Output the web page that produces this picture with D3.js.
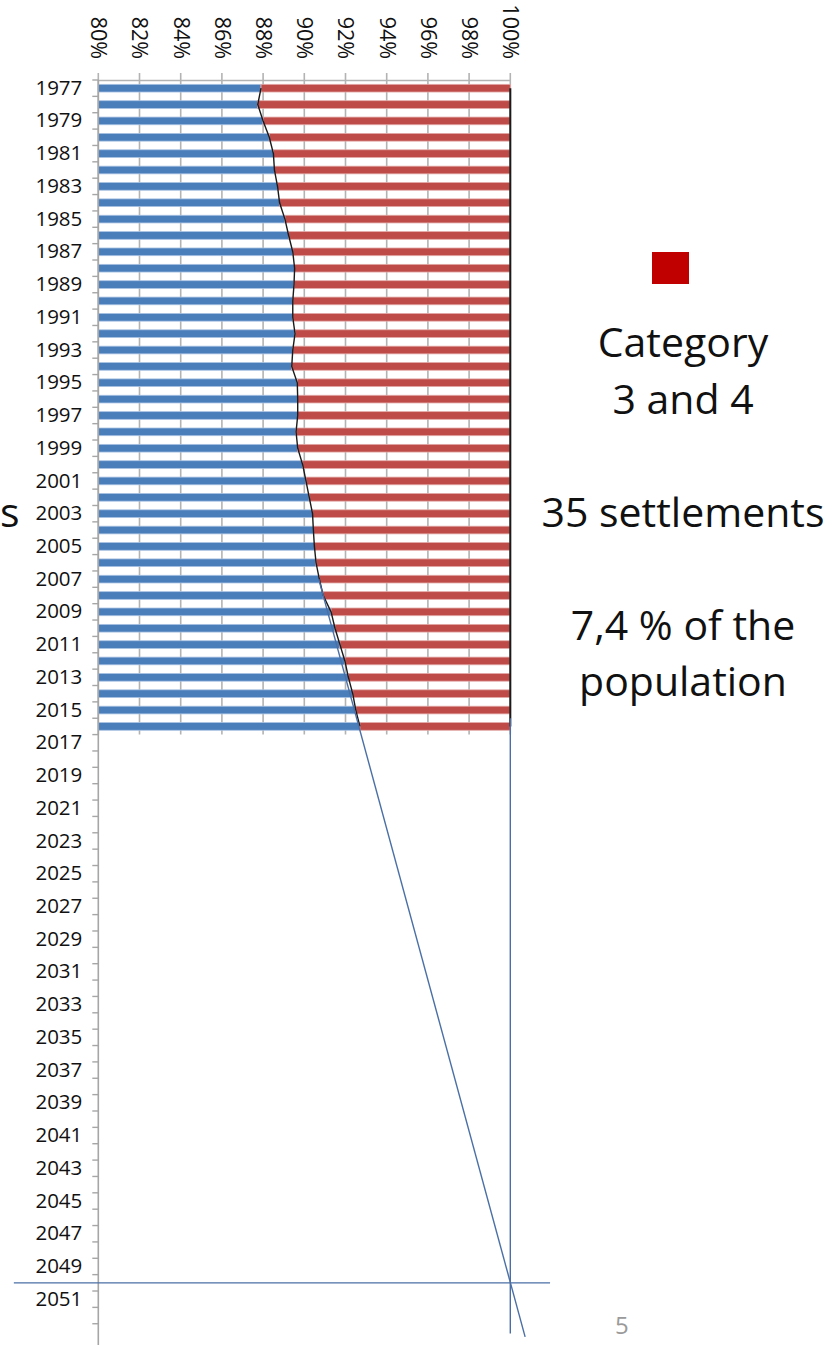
<!DOCTYPE html>
<html>
<head>
<meta charset="utf-8">
<script src="https://cdn.jsdelivr.net/npm/d3@7"></script>
<style>
  html, body { margin: 0; padding: 0; background: #fff; }
  svg { display: block; font-family: 'Open Sans', sans-serif; }
</style>
</head>
<body>
<div id="chart"></div>
<script>
// share of the population outside category 3 and 4 settlements (blue part)
const years = d3.range(1977, 2017);
const shares = [
  0.879, 0.8774, 0.880, 0.883, 0.885, 0.8855, 0.887, 0.888, 0.8906, 0.8924,
  0.8944, 0.8953, 0.895, 0.8944, 0.8944, 0.8955, 0.8944, 0.8939, 0.8966, 0.8968,
  0.8968, 0.896, 0.8968, 0.8992, 0.9008, 0.9024, 0.904, 0.9044, 0.9049, 0.9057,
  0.9073, 0.9092, 0.913, 0.9149, 0.9173, 0.9197, 0.9214, 0.9235, 0.925, 0.927,
];
const axisYears = d3.range(1977, 2054);
const yearLabels = d3.range(1977, 2052, 2);
const pctTicks = d3.range(0.80, 1.0001, 0.02);

// projection: straight line reaching 100% in 2050
const trendLine = [[2007, 0.907], [2053.3, 1.0072]];
const targetYear = [[0.759, 2050], [1.0193, 2050]];
const targetShare = [[1.0, 2015.5], [1.0, 2053.1]];

const legendLines = ['Category', '3 and 4', '', '35 settlements', '', '7,4 % of the', 'population'];

const width = 833;
const height = 1345;

const svg = d3.select('#chart').append('svg')
  .attr('width', width)
  .attr('height', height);

const x = d3.scaleLinear().domain([0.80, 1.00]).range([98.3, 510.3]);
const y = d3.scaleBand().domain(axisYears).range([80, 80 + axisYears.length * 16.365]);
const bw = y.bandwidth();
const yLin = d3.scaleLinear()
  .domain([1977, 2053])
  .range([y(1977) + bw / 2, y(2053) + bw / 2]);

const barBottom = y(years[years.length - 1]) + bw;

// gridlines over the data part only
svg.append('g')
  .selectAll('line')
  .data(pctTicks)
  .join('line')
  .attr('x1', (d) => x(d))
  .attr('x2', (d) => x(d))
  .attr('y1', 73)
  .attr('y2', barBottom)
  .attr('stroke', '#b3b3b3')
  .attr('stroke-width', 1.6);

// top axis
const xAxis = svg.append('g')
  .attr('transform', 'translate(0,80)')
  .call(d3.axisTop(x).tickValues(pctTicks).tickFormat(d3.format('.0%')).tickSize(0).tickSizeOuter(0));
xAxis.select('.domain').attr('stroke', '#b3b3b3').attr('stroke-width', 1.6);
xAxis.selectAll('text')
  .attr('transform', 'rotate(90)')
  .attr('x', -21)
  .attr('y', 0)
  .attr('dy', '0.35em')
  .style('text-anchor', 'end')
  .style('font-size', '21.5px')
  .style('font-family', 'Open Sans')
  .attr('fill', '#111');

// bars
const rows = years.map((yr, i) => ({ year: yr, v: shares[i] }));
const barH = bw * 0.47;

svg.append('g')
  .selectAll('rect')
  .data(rows)
  .join('rect')
  .attr('x', x(0.80))
  .attr('y', (d) => y(d.year) + (bw - barH) / 2)
  .attr('width', (d) => x(d.v) - x(0.80))
  .attr('height', barH)
  .attr('fill', '#4a7ebb')
  .attr('stroke', '#a9c2e3')
  .attr('stroke-width', 0.8);

svg.append('g')
  .selectAll('rect')
  .data(rows)
  .join('rect')
  .attr('x', (d) => x(d.v))
  .attr('y', (d) => y(d.year) + (bw - barH) / 2)
  .attr('width', (d) => x(1.0) - x(d.v))
  .attr('height', barH)
  .attr('fill', '#be4b48')
  .attr('stroke', '#e3aaa8')
  .attr('stroke-width', 0.8);

// boundary line and the 100% line
const line = d3.line()
  .x((d) => x(d.v))
  .y((d) => y(d.year) + bw / 2);

svg.append('path')
  .datum(rows)
  .attr('d', line)
  .attr('fill', 'none')
  .attr('stroke', '#1a1a1a')
  .attr('stroke-width', 1.4);

svg.append('path')
  .datum(rows.map((d) => ({ year: d.year, v: 1.0 })))
  .attr('d', line)
  .attr('fill', 'none')
  .attr('stroke', '#1a1a1a')
  .attr('stroke-width', 2);

// left axis
const yAxis = svg.append('g')
  .attr('transform', `translate(${x(0.80)},0)`)
  .call(d3.axisLeft(y).tickValues(yearLabels).tickSize(0).tickPadding(16));
yAxis.select('.domain').remove();
yAxis.selectAll('text')
  .style('font-size', '20.5px')
  .style('font-family', 'Open Sans')
  .attr('fill', '#111');

svg.append('line')
  .attr('x1', x(0.80)).attr('x2', x(0.80))
  .attr('y1', 80).attr('y2', height)
  .attr('stroke', '#a6a6a6')
  .attr('stroke-width', 1.6);

svg.append('g')
  .selectAll('line')
  .data(axisYears)
  .join('line')
  .attr('x1', x(0.80) - 6)
  .attr('x2', x(0.80))
  .attr('y1', (d) => y(d))
  .attr('y2', (d) => y(d))
  .attr('stroke', '#a6a6a6')
  .attr('stroke-width', 1.4);

// projection lines
const pline = d3.line()
  .x((d) => x(d[0]))
  .y((d) => yLin(d[1]));

svg.append('path')
  .attr('d', pline(trendLine.map((d) => [d[1], d[0]])))
  .attr('fill', 'none')
  .attr('stroke', '#4a6fa5')
  .attr('stroke-width', 1.4);

svg.append('path')
  .attr('d', pline(targetYear))
  .attr('fill', 'none')
  .attr('stroke', '#4a6fa5')
  .attr('stroke-width', 1.4);

svg.append('path')
  .attr('d', pline(targetShare))
  .attr('fill', 'none')
  .attr('stroke', '#4a6fa5')
  .attr('stroke-width', 1.4);

// legend / annotation on the right
svg.append('rect')
  .attr('x', 652)
  .attr('y', 252)
  .attr('width', 37)
  .attr('height', 32)
  .attr('fill', '#c00000');

svg.append('g')
  .selectAll('text')
  .data(legendLines)
  .join('text')
  .attr('x', 683)
  .attr('y', (d, i) => 357 + i * 56.5)
  .attr('text-anchor', 'middle')
  .style('font-size', '41px')
  .attr('fill', '#111')
  .text((d) => d);

// tail of the neighbouring panel's text and the page number
svg.append('text')
  .attr('x', 0)
  .attr('y', 527)
  .style('font-size', '41px')
  .attr('fill', '#111')
  .text('s');

svg.append('text')
  .attr('x', 615)
  .attr('y', 1334)
  .style('font-size', '24px')
  .attr('fill', '#9a9a9a')
  .text('5');
</script>
</body>
</html>
